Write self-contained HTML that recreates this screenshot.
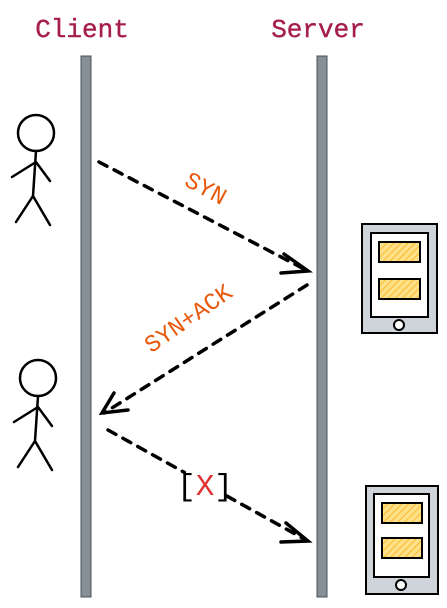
<!DOCTYPE html>
<html><head><meta charset="utf-8"><style>
body{margin:0;background:#fff}
svg{display:block}
text{font-family:"Liberation Mono",monospace}
</style></head><body>
<svg width="447" height="608" viewBox="0 0 447 608">
<defs>
<pattern id="hatch" width="5" height="5" patternUnits="userSpaceOnUse" patternTransform="rotate(45)">
<rect width="5" height="5" fill="#ffe08a"/><line x1="0" y1="0" x2="0" y2="5" stroke="#fab005" stroke-width="1.5"/>
</pattern>
</defs>
<text x="82" y="37" font-size="26" fill="#a61e4d" stroke="#a61e4d" stroke-width="0.4" text-anchor="middle">Client</text>
<text x="318" y="37" font-size="26" fill="#a61e4d" stroke="#a61e4d" stroke-width="0.4" text-anchor="middle">Server</text>
<rect x="81" y="56" width="10" height="541" fill="#868e96" stroke="#495057" stroke-width="1"/>
<rect x="317" y="56" width="10" height="541" fill="#868e96" stroke="#495057" stroke-width="1"/>
<g stroke="#000" stroke-width="2.5" fill="none" stroke-linecap="round">
<circle cx="36" cy="133" r="18"/><path d="M36 151 L33 196 M12 177 L36 162 L50 181 M33 196 L16 222 M33 196 L50 225"/>
</g>
<g stroke="#000" stroke-width="2.5" fill="none" stroke-linecap="round">
<circle cx="38" cy="378" r="18"/><path d="M38 396 L35 441 M14 422 L38 407 L52 426 M35 441 L18 467 M35 441 L52 470"/>
</g>
<g>
<rect x="362" y="224" width="75" height="109" fill="#ced4da" stroke="#000" stroke-width="2"/>
<rect x="371" y="233" width="57" height="84" fill="#fff" stroke="#000" stroke-width="2"/>
<rect x="379" y="242" width="41" height="20" fill="url(#hatch)" stroke="#000" stroke-width="2"/>
<rect x="379" y="279" width="41" height="20" fill="url(#hatch)" stroke="#000" stroke-width="2"/>
<circle cx="399" cy="325" r="5" fill="#fff" stroke="#000" stroke-width="2"/>
</g>
<g>
<rect x="366" y="486" width="72" height="108" fill="#ced4da" stroke="#000" stroke-width="2"/>
<rect x="374" y="494" width="55" height="83" fill="#fff" stroke="#000" stroke-width="2"/>
<rect x="382" y="503" width="40" height="20" fill="url(#hatch)" stroke="#000" stroke-width="2"/>
<rect x="382" y="538" width="40" height="20" fill="url(#hatch)" stroke="#000" stroke-width="2"/>
<circle cx="401" cy="585" r="5" fill="#fff" stroke="#000" stroke-width="2"/>
</g>
<g stroke="#000" stroke-width="3.5" fill="none" stroke-linecap="round">
<path d="M99 162 L306 270" stroke-dasharray="9 8"/>
<path d="M284 254 L308 271 L281 273"/>
<path d="M307 285 L104 413" stroke-dasharray="9 8"/>
<path d="M114 393 L102 413 L128 410"/>
<path d="M108 430 L306 540" stroke-dasharray="9 8"/>
<path d="M286 523 L308 541 L281 542"/>
</g>
<text x="206" y="196" font-size="24" fill="#e8590c" text-anchor="middle" transform="rotate(28 206 188)">SYN</text>
<text x="188" y="326" font-size="24" fill="#e8590c" text-anchor="middle" transform="rotate(-35 188 318)">SYN+ACK</text>
<g>
<rect x="186" y="464" width="38" height="36" fill="#fff"/>
<text x="205" y="495" font-size="31" text-anchor="middle"><tspan fill="#000">[</tspan><tspan fill="#e03131">X</tspan><tspan fill="#000">]</tspan></text>
</g>
</svg>
</body></html>
